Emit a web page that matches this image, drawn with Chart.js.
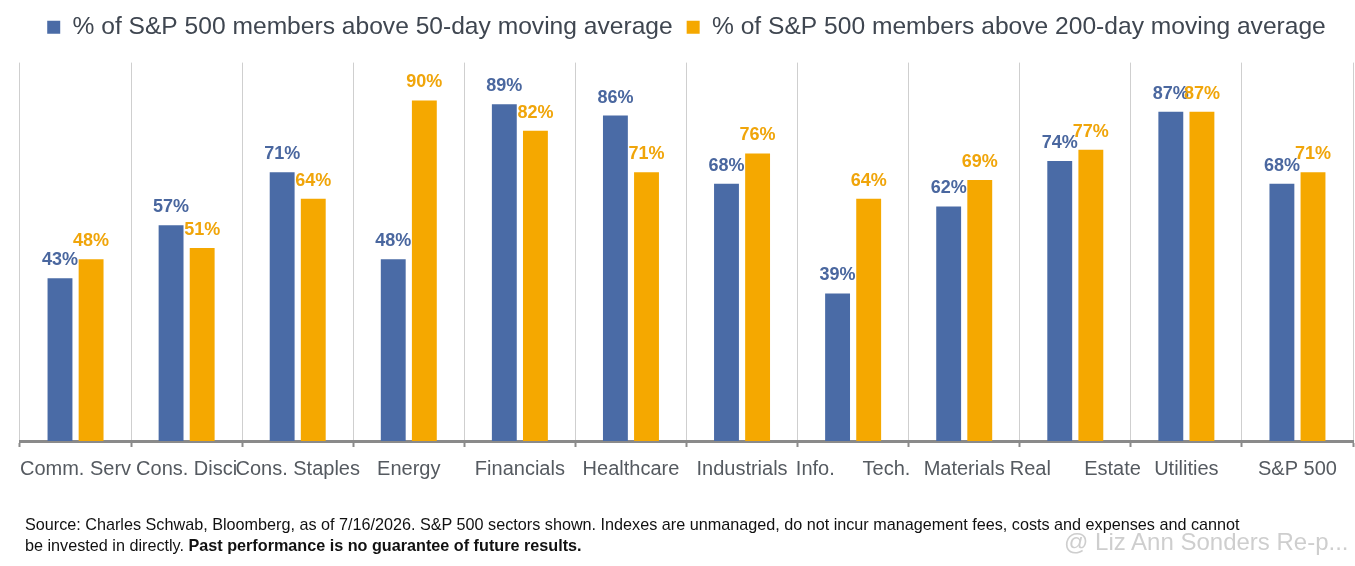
<!DOCTYPE html>
<html>
<head>
<meta charset="utf-8">
<script src="https://cdn.jsdelivr.net/npm/chart.js@4/dist/chart.umd.min.js"></script>
<style>
    body { margin: 0; background: #ffffff; }
    #wrap { position: relative; width: 1355px; height: 566px; overflow: hidden; }
    #footer {
        position: absolute; left: 25px; top: 514px;
        font-family: 'Liberation Sans', Arial, sans-serif;
        font-size: 16.2px; line-height: 21px; color: #111111;
    }
    #mark {
        position: absolute; left: 1064px; top: 528px;
        font-family: 'Liberation Sans', Arial, sans-serif;
        font-size: 24px; color: rgba(190, 190, 190, 0.75);
    }
</style>
</head>
<body>
<div id="wrap">
    <canvas id="chart" width="1355" height="566"></canvas>
    <div id="footer">
        Source: Charles Schwab, Bloomberg, as of 7/16/2026. S&amp;P 500 sectors shown. Indexes are unmanaged, do not incur management fees, costs and expenses and cannot<br>
        be invested in directly. <b>Past performance is no guarantee of future results.</b>
    </div>
    <div id="mark">@ Liz Ann Sonders Re-p...</div>
</div>
<script>
// 類別與數值
const sectors = ['Comm. Serv', 'Cons. Disci', 'Cons. Staples', 'Energy', 'Financials', 'Healthcare',
    'Industrials', 'Info.     Tech.', 'Materials', 'Real      Estate', 'Utilities', 'S&P 500'];
const above50 = [43, 57, 71, 48, 89, 86, 68, 39, 62, 74, 87, 68];
const above200 = [48, 51, 64, 90, 82, 71, 76, 64, 69, 77, 87, 71];

const blue = '#4a6ba6';
const orange = '#f5a800';
const fontFamily = "'Liberation Sans', Arial, sans-serif";

// 柱子上方的百分比標籤
const barLabels = {
    id: 'barLabels',
    afterDatasetsDraw(chart) {
        const ctx = chart.ctx;
        ctx.save();
        ctx.font = 'bold 18px ' + fontFamily;
        ctx.textAlign = 'center';
        ctx.textBaseline = 'alphabetic';
        chart.data.datasets.forEach((ds, i) => {
            const meta = chart.getDatasetMeta(i);
            ctx.fillStyle = ds.labelColor;
            meta.data.forEach((bar, j) => {
                ctx.fillText(ds.data[j] + '%', bar.x, bar.y - 13);
            });
        });
        ctx.restore();
    }
};

// 圖例下方多留一點空間
const legendGap = {
    id: 'legendGap',
    beforeInit(chart) {
        const fit = chart.legend.fit;
        chart.legend.fit = function() {
            fit.bind(chart.legend)();
            this.height += 13;
        };
    }
};

new Chart(document.getElementById('chart'), {
    type: 'bar',
    data: {
        labels: sectors,
        datasets: [{
            label: '% of S&P 500 members above 50-day moving average',
            data: above50,
            backgroundColor: blue,
            labelColor: '#4a679f'
        }, {
            label: '% of S&P 500 members above 200-day moving average',
            data: above200,
            backgroundColor: orange,
            labelColor: '#f0a50a'
        }]
    },
    options: {
        responsive: false,
        animation: false,
        categoryPercentage: 0.56,
        barPercentage: 0.8,
        layout: {
            padding: { top: 1, left: 20, right: 2, bottom: 75 }
        },
        plugins: {
            legend: {
                position: 'top',
                labels: {
                    boxWidth: 13,
                    boxHeight: 13,
                    padding: 14,
                    color: '#3f4650',
                    font: { family: fontFamily, size: 24.6 }
                }
            },
            tooltip: { enabled: false }
        },
        scales: {
            x: {
                grid: {
                    offset: true,
                    color: '#cfcfcf',
                    lineWidth: 1,
                    tickColor: '#8a8a8a',
                    tickWidth: 2,
                    tickLength: 6
                },
                border: { color: '#8a8a8a', width: 3 },
                ticks: {
                    autoSkip: false,
                    maxRotation: 0,
                    minRotation: 0,
                    padding: 10,
                    color: '#555a60',
                    font: { family: fontFamily, size: 20 }
                }
            },
            y: {
                display: false,
                min: 0,
                max: 100
            }
        }
    },
    plugins: [barLabels, legendGap]
});
</script>
</body>
</html>
